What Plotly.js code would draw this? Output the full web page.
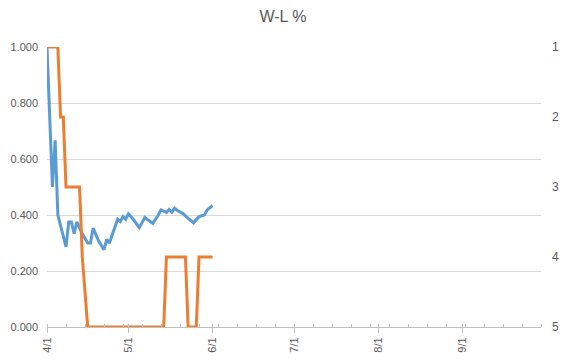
<!DOCTYPE html>
<html>
<head>
<meta charset="utf-8">
<script src="https://cdn.plot.ly/plotly-3.0.1.min.js"></script>
<style>
  html, body { margin: 0; padding: 0; background: #fff; }
  #chart { width: 566px; height: 362px; }
</style>
</head>
<body>
<div id="chart"></div>
<script>
// W-L % (left axis)
const wlDates = [
  '2019-04-01','2019-04-03','2019-04-04','2019-04-05','2019-04-08','2019-04-09','2019-04-10',
  '2019-04-11','2019-04-12','2019-04-14','2019-04-16','2019-04-17','2019-04-18','2019-04-20',
  '2019-04-22','2019-04-23','2019-04-24','2019-04-27','2019-04-28','2019-04-29','2019-04-30',
  '2019-05-01','2019-05-03','2019-05-05','2019-05-07','2019-05-10','2019-05-12','2019-05-13',
  '2019-05-15','2019-05-16','2019-05-17','2019-05-18','2019-05-19','2019-05-21','2019-05-23',
  '2019-05-25','2019-05-27','2019-05-28','2019-05-29','2019-05-30','2019-06-01'
];
const wlPct = [
  1.000, 0.500, 0.667, 0.400, 0.286, 0.375, 0.375,
  0.333, 0.375, 0.333, 0.300, 0.300, 0.353, 0.308,
  0.276, 0.313, 0.300, 0.385, 0.377, 0.394, 0.385,
  0.404, 0.382, 0.355, 0.391, 0.370, 0.400, 0.418,
  0.409, 0.420, 0.410, 0.424, 0.416, 0.406, 0.388,
  0.372, 0.394, 0.398, 0.400, 0.418, 0.434
];

// Standing / rank (right axis, reversed)
const rankDates = [
  '2019-04-01','2019-04-05','2019-04-06','2019-04-07','2019-04-08','2019-04-13','2019-04-14',
  '2019-04-16','2019-05-14','2019-05-15','2019-05-22','2019-05-23','2019-05-26','2019-05-27',
  '2019-06-01'
];
const rankVals = [1, 1, 2, 2, 3, 3, 4, 5, 5, 4, 4, 5, 5, 4, 4];

// Axis labels
const titleText = 'W-L %';
const xRange = ['2019-04-01', '2019-09-30'];
const leftTicks = [0, 0.2, 0.4, 0.6, 0.8, 1.0];
const rightTicks = [1, 2, 3, 4, 5];

const txtColor = '#595959';
const axisColor = '#bfbfbf';
const gridColor = '#d9d9d9';
const fontFam = 'Liberation Sans, Arial, sans-serif';

const traces = [
  {
    x: wlDates, y: wlPct, type: 'scatter', mode: 'lines',
    line: { color: '#5B9BD5', width: 3, shape: 'linear' },
    xaxis: 'x', yaxis: 'y', hoverinfo: 'skip', showlegend: false
  },
  {
    x: rankDates, y: rankVals, type: 'scatter', mode: 'lines',
    line: { color: '#ED7D31', width: 3, shape: 'linear' },
    xaxis: 'x', yaxis: 'y2', hoverinfo: 'skip', showlegend: false
  },
  {
    x: xRange, y: [null, null], type: 'scatter', mode: 'lines',
    xaxis: 'x2', yaxis: 'y', hoverinfo: 'skip', showlegend: false
  }
];

const layout = {
  width: 566, height: 362,
  margin: { l: 47, r: 25, t: 47, b: 35, pad: 0 },
  paper_bgcolor: '#ffffff', plot_bgcolor: '#ffffff',
  font: { family: fontFam, size: 11, color: txtColor },
  title: {
    text: titleText, x: 0.5, xanchor: 'center', y: 0.955, yanchor: 'middle',
    font: { family: fontFam, size: 16, color: txtColor }
  },
  showlegend: false,
  xaxis: {
    type: 'date', range: xRange, fixedrange: true,
    tick0: '2019-04-01', dtick: 'M1', tickformat: '%-m/%-d', tickangle: -90,
    ticks: 'outside', ticklen: 5, tickcolor: axisColor, tickwidth: 1,
    showline: true, linecolor: axisColor, linewidth: 1,
    showgrid: false, zeroline: false,
    tickfont: { family: fontFam, size: 11, color: txtColor },
    minor: { tick0: '2019-04-01', dtick: 7 * 86400000, ticks: 'inside', ticklen: 3,
             tickcolor: axisColor, showgrid: false }
  },
  xaxis2: {
    type: 'date', range: xRange, overlaying: 'x', fixedrange: true,
    tick0: '2019-04-01', dtick: 'M1', ticks: 'inside', ticklen: 3, tickcolor: axisColor,
    showticklabels: false, showline: false, showgrid: false, zeroline: false, side: 'bottom'
  },
  yaxis: {
    range: [0, 1], tickvals: leftTicks, tickformat: '.3f', fixedrange: true,
    showgrid: true, gridcolor: gridColor, gridwidth: 1,
    zeroline: false, showline: false, ticks: '', ticklabelstandoff: 8,
    tickfont: { family: fontFam, size: 11, color: txtColor }
  },
  yaxis2: {
    range: [5, 1], tickvals: rightTicks, overlaying: 'y', side: 'right', fixedrange: true,
    showgrid: false, zeroline: false, showline: false, ticks: '', ticklabelstandoff: 10,
    tickfont: { family: fontFam, size: 12, color: txtColor }
  }
};

Plotly.newPlot('chart', traces, layout, { staticPlot: true, displayModeBar: false });
</script>
</body>
</html>
